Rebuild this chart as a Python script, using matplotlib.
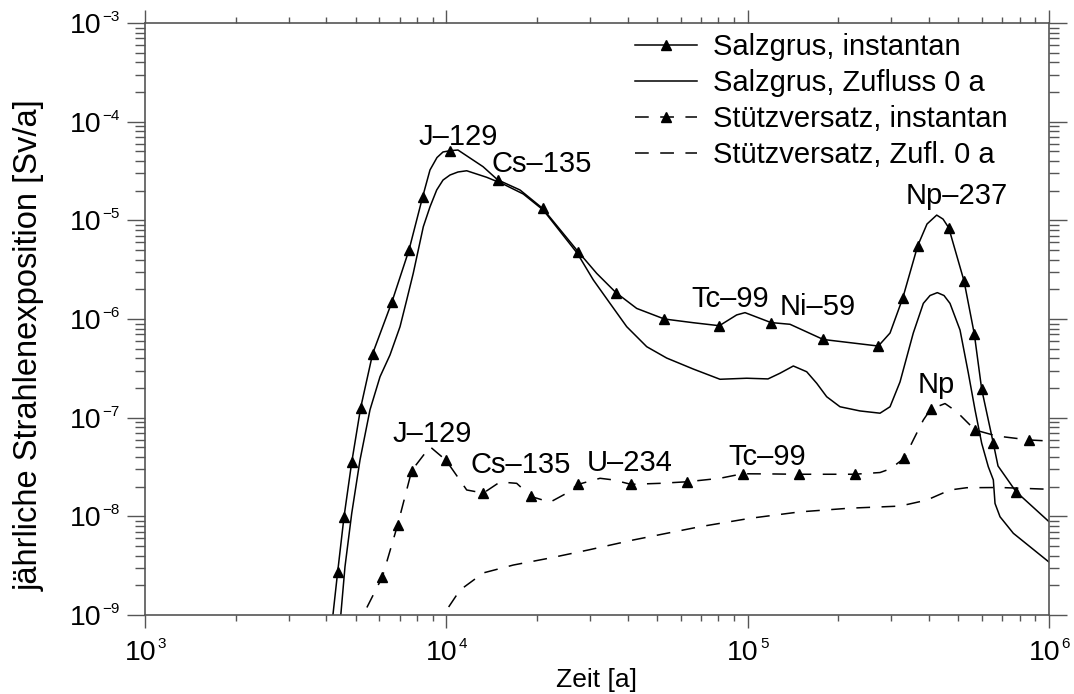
import matplotlib
matplotlib.use("Agg")
import matplotlib.pyplot as plt
import matplotlib.transforms as mtrans

plt.rcParams['font.family'] = ['Liberation Sans', 'DejaVu Sans']

# ---- data ----
# Salzgrus, instantan
sg_inst_t = [4150, 4360, 4576, 4853, 5196, 5697, 6603, 7517, 8349, 8826, 9311, 9750, 10309,
             10930, 11985, 13236, 14785, 17560, 20885, 27350, 31550, 36560, 42830, 52890,
             66000, 80540, 91960, 98000, 119500, 138200, 178200, 271400, 296800, 326900,
             366700, 393700, 424000, 444900, 464700, 522400, 565100, 597900, 653500,
             677300, 777100, 1000000]
sg_inst_d = [7.0e-10, 2.75e-9, 9.9e-9, 3.53e-8, 1.26e-7, 4.47e-7, 1.50e-6, 5.0e-6, 1.74e-5,
             3.24e-5, 4.33e-5, 4.93e-5, 5.08e-5, 5.16e-5, 4.28e-5, 3.5e-5, 2.58e-5, 2.03e-5,
             1.32e-5, 4.83e-6, 2.9e-6, 1.85e-6, 1.28e-6, 1.0e-6, 9.17e-7, 8.55e-7, 1.10e-6,
             1.16e-6, 9.2e-7, 8.84e-7, 6.2e-7, 5.32e-7, 7.21e-7, 1.62e-6, 5.53e-6, 9.18e-6,
             1.13e-5, 1.03e-5, 8.42e-6, 2.43e-6, 7.05e-7, 1.94e-7, 5.5e-8, 3.24e-8, 1.78e-8,
             8.83e-9]
sg_inst_markers = [1, 2, 3, 4, 5, 6, 7, 8, 12, 16, 18, 19, 21, 23, 25, 28, 30, 31, 33,
                   34, 38, 39, 40, 41, 42, 44]

# Salzgrus, Zufluss 0 a
sg_zu_t = [4420, 4610, 4853, 5170, 5580, 6025, 6502, 7020, 7388, 7765, 8387, 8826, 9290,
           9750, 10285, 10930, 11685, 13614, 15454, 18000, 20980, 27210, 30740, 34930,
           39680, 46240, 53860, 66000, 80930, 99270, 116800, 128000, 141750, 157000,
           169500, 182900, 202500, 235900, 274950, 296800, 320300, 354500, 382800,
           402900, 426000, 448300, 469300, 506700, 539800, 568200, 597900, 628900,
           653500, 662000, 687800, 761500, 1000000]
sg_zu_d = [7.05e-10, 3.09e-9, 1.07e-8, 3.72e-8, 1.20e-7, 2.60e-7, 4.32e-7, 8.36e-7, 1.56e-6,
           2.9e-6, 8.62e-6, 1.37e-5, 2.03e-5, 2.56e-5, 2.88e-5, 3.09e-5, 3.18e-5, 2.73e-5,
           2.33e-5, 1.85e-5, 1.27e-5, 4.63e-6, 2.49e-6, 1.44e-6, 8.36e-7, 5.24e-7, 4.02e-7,
           3.11e-7, 2.45e-7, 2.51e-7, 2.47e-7, 2.82e-7, 3.34e-7, 2.92e-7, 2.23e-7, 1.63e-7,
           1.29e-7, 1.17e-7, 1.11e-7, 1.29e-7, 2.30e-7, 7.21e-7, 1.44e-6, 1.73e-6, 1.85e-6,
           1.73e-6, 1.44e-6, 7.73e-7, 2.84e-7, 1.20e-7, 5.5e-8, 3.18e-8, 2.34e-8, 1.35e-8,
           9.9e-9, 6.73e-9, 3.44e-9]

# Stuetzversatz, instantan
sv_inst_t = [4995, 6132, 6896, 7676, 8826, 9975, 11685, 13266, 15070, 17120, 19100, 22080,
             24760, 27420, 32360, 35820, 41010, 51180, 62900, 80930, 96130, 118600,
             147700, 226500, 274950, 296800, 331000, 354500, 382800, 405000, 451800,
             493900, 568200, 670700, 860500, 1000000]
sv_inst_d = [7.05e-10, 2.43e-9, 8.23e-9, 2.91e-8, 5.08e-8, 3.70e-8, 1.85e-8, 1.72e-8,
             2.23e-8, 2.16e-8, 1.59e-8, 1.39e-8, 1.68e-8, 2.11e-8, 2.43e-8, 2.34e-8,
             2.11e-8, 2.16e-8, 2.24e-8, 2.43e-8, 2.70e-8, 2.69e-8, 2.67e-8, 2.67e-8,
             2.78e-8, 3.02e-8, 3.88e-8, 5.94e-8, 9.47e-8, 1.22e-7, 1.39e-7, 1.15e-7,
             7.5e-8, 6.52e-8, 5.94e-8, 5.80e-8]
sv_inst_markers = [1, 2, 3, 5, 7, 10, 13, 16, 18, 20, 22, 23, 26, 29, 32, 34]

# Stuetzversatz, Zufl. 0 a
sv_zu_t = [9456, 9770, 11100, 13266, 16690, 22080, 29590, 41740, 53860, 69470, 101800,
           149200, 218600, 320300, 392800, 469300, 533200, 687800, 1000000]
sv_zu_d = [7.05e-10, 1.0e-9, 1.79e-9, 2.67e-9, 3.21e-9, 3.78e-9, 4.56e-9, 5.76e-9, 6.73e-9,
           7.85e-9, 9.55e-9, 1.11e-8, 1.21e-8, 1.27e-8, 1.46e-8, 1.85e-8, 1.95e-8,
           1.96e-8, 1.88e-8]

labels = ["Salzgrus, instantan", "Salzgrus, Zufluss 0 a",
          "Stützversatz, instantan", "Stützversatz, Zufl. 0 a"]

annot_text = ["J\u2013129", "Cs\u2013135", "Tc\u201399", "Ni\u201359", "Np\u2013237", "Np",
              "J\u2013129", "Cs\u2013135", "U\u2013234", "Tc\u201399"]
annot_x = [10975, 20780, 87380, 171200, 493200, 423400, 8997, 17630, 40540, 116400]
annot_y = [5.8e-5, 3.11e-5, 1.32e-6, 1.10e-6, 1.46e-5, 1.77e-7, 5.7e-8, 2.73e-8, 2.9e-8, 3.31e-8]

x_decades = [3, 4, 5, 6]
y_decades = [-9, -8, -7, -6, -5, -4, -3]

# ---- figure ----
fig = plt.figure(figsize=(10.74, 6.94), dpi=100)
ax = fig.add_axes([145 / 1074, 1 - 615 / 694, 904 / 1074, 592 / 694])

lw = 1.1
dash = (9, 7.5)
ax.plot(sg_inst_t, sg_inst_d, color='black', lw=lw, marker='^', ms=7,
        markevery=sg_inst_markers, label=labels[0])
ax.plot(sg_zu_t, sg_zu_d, color='black', lw=lw, label=labels[1])
ax.plot(sv_inst_t, sv_inst_d, color='black', lw=lw, ls=(0, dash), marker='^', ms=7,
        markevery=sv_inst_markers, label=labels[2])
ax.plot(sv_zu_t, sv_zu_d, color='black', lw=lw, ls=(0, dash), label=labels[3])

ax.set_xscale('log')
ax.set_yscale('log')
ax.set_xlim(1e3, 1e6)
ax.set_ylim(1e-9, 1e-3)

fs = 21
for t, x, y in zip(annot_text, annot_x, annot_y):
    ax.text(x, y, t, ha='center', va='baseline', fontsize=fs)

axcol = '#555555'
for s in ax.spines.values():
    s.set_color(axcol)
    s.set_linewidth(1.2)
ax.tick_params(axis='both', which='both', direction='out', colors=axcol, width=1.0,
               labelbottom=False, labelleft=False)
ax.tick_params(axis='x', which='major', length=9.5, top=True)
ax.tick_params(axis='x', which='minor', length=4.5, top=True)
ax.tick_params(axis='y', which='major', length=13, right=True)
ax.tick_params(axis='y', which='minor', length=7, right=True)
ax.yaxis.set_major_locator(matplotlib.ticker.LogLocator(base=10, numticks=20))
ax.yaxis.set_minor_locator(matplotlib.ticker.LogLocator(base=10, subs=range(2, 10), numticks=20))

# tick labels: "10" with a small superscript exponent
tfs, sfs = 20.5, 11
bx = ax.get_xaxis_transform()
for d in x_decades:
    ax.text(10.0 ** d, 0, "10", fontsize=tfs, ha='right', va='baseline',
            transform=bx + mtrans.ScaledTranslation(8 / 72, -32.5 / 72, fig.dpi_scale_trans),
            clip_on=False)
    ax.text(10.0 ** d, 0, str(d), fontsize=sfs, ha='left', va='baseline',
            transform=bx + mtrans.ScaledTranslation(8.8 / 72, -24 / 72, fig.dpi_scale_trans),
            clip_on=False)
by = ax.get_yaxis_transform()
for d in y_decades:
    ax.text(0, 10.0 ** d, "10", fontsize=tfs, ha='right', va='baseline',
            transform=by + mtrans.ScaledTranslation(-31.3 / 72, -7.2 / 72, fig.dpi_scale_trans),
            clip_on=False)
    ax.text(0, 10.0 ** d, "\u2212" + str(-d), fontsize=sfs, ha='left', va='baseline',
            transform=by + mtrans.ScaledTranslation(-30.6 / 72, 1.5 / 72, fig.dpi_scale_trans),
            clip_on=False)

ax.set_xlabel("Zeit [a]", fontsize=19)
ax.xaxis.set_label_coords(0.5, -0.09)
ax.set_ylabel("jährliche Strahlenexposition [Sv/a]", fontsize=23.5)
ax.yaxis.set_label_coords(-0.111, 0.456)

leg = ax.legend(loc='upper left', bbox_to_anchor=(0.52, 1.017), frameon=False,
                fontsize=fs, handlelength=2.1, handletextpad=0.55, labelspacing=0.27,
                borderpad=0.2, numpoints=1)

fig.savefig("out.png", dpi=100)
